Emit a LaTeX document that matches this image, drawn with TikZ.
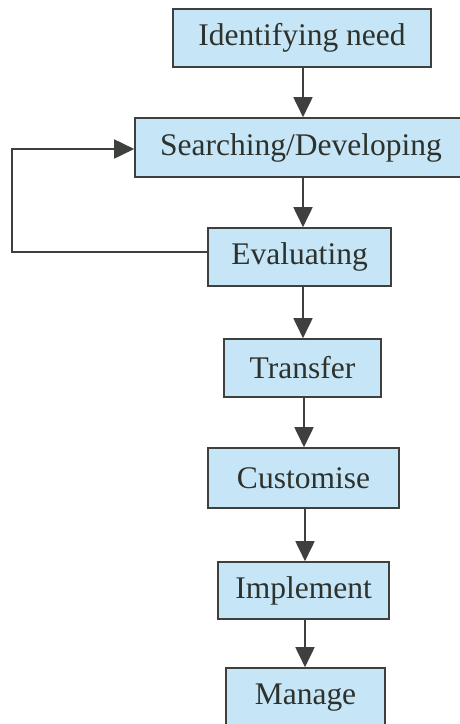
\documentclass[tikz,border=0pt]{standalone}
\usepackage{fontspec}
\setmainfont{Liberation Serif}
\usetikzlibrary{arrows.meta,calc}
\definecolor{boxfill}{RGB}{198,229,246}
\definecolor{linegrey}{RGB}{62,64,62}
\definecolor{textgrey}{RGB}{45,50,45}
\tikzset{
  stagebox/.style={draw=linegrey, line width=1.6pt, fill=boxfill, rectangle,
    inner sep=0pt, text=textgrey, font=\fontsize{31.5}{36}\selectfont},
  flowarrow/.style={draw=linegrey, line width=1.8pt,
    -{Triangle[length=20pt,width=19pt]}}
}
\begin{document}
\begin{tikzpicture}[x=1pt,y=-1pt]
\clip (0,0) rectangle (460,724);
\fill[white] (0,0) rectangle (460,724);
\node[stagebox, minimum width=258pt, minimum height=58pt] (ident) at (302,38) {Identifying need};
\node[stagebox, minimum width=332pt, minimum height=59pt] (search) at (301,147.5) {Searching/Developing};
\node[stagebox, minimum width=183pt, minimum height=58pt] (eval) at (299.5,257) {Evaluating};
\node[stagebox, minimum width=157pt, minimum height=58pt] (transfer) at (302.5,368) {Transfer};
\node[stagebox, minimum width=191pt, minimum height=60pt] (custom) at (303.5,478) {Customise};
\node[stagebox, minimum width=171pt, minimum height=57pt] (impl) at (303.5,590.5) {Implement};
\node[stagebox, minimum width=159pt, minimum height=60pt] (manage) at (305.5,698) {Manage};
\coordinate (loopcorner) at (12,252);
\draw[flowarrow] ([xshift=1pt]ident.south) -- ([xshift=1pt]ident.south |- search.north);
\draw[flowarrow] ([xshift=2pt]search.south) -- ([xshift=2pt]search.south |- eval.north);
\draw[flowarrow] ([xshift=0.5pt]transfer.north |- eval.south) -- ([xshift=0.5pt]transfer.north);
\draw[flowarrow] ([xshift=1.5pt]transfer.south) -- ([xshift=1.5pt]transfer.south |- custom.north);
\draw[flowarrow] ([xshift=1.5pt]custom.south) -- ([xshift=1.5pt]custom.south |- impl.north);
\draw[flowarrow] ([xshift=1.5pt]impl.south) -- ([xshift=1.5pt]impl.south |- manage.north);
\draw[flowarrow] ([yshift=5pt]eval.west) -- (loopcorner) |- ([yshift=-1.5pt]search.west);
\end{tikzpicture}
\end{document}
